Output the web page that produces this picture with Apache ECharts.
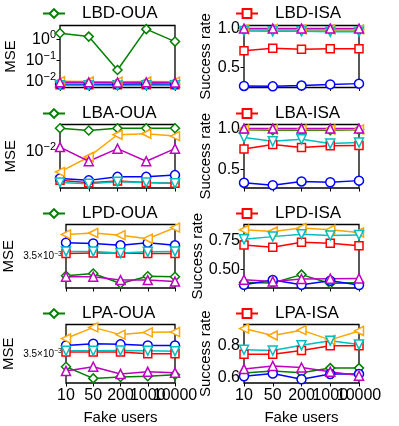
<!DOCTYPE html>
<html>
<head>
<meta charset="utf-8">
<script src="https://cdn.jsdelivr.net/npm/echarts@6/dist/echarts.min.js"></script>
<style>
  html, body { margin: 0; padding: 0; background: #fff; }
  #main { width: 399px; height: 426px; }
</style>
</head>
<body>
<div id="main"></div>
<script>
// x 轴: 假用户数
var xLabels = ['10', '50', '200', '1000', '10000'];

// LBD-OUA (MSE, log)
var lbdOuaGreen   = [1.94, 1.33, 0.034, 3.02, 0.77];
var lbdOuaRed     = [0.0068, 0.0067, 0.0068, 0.0068, 0.0067];
var lbdOuaBlue    = [0.0072, 0.0071, 0.0072, 0.0073, 0.0072];
var lbdOuaOrange  = [0.0100, 0.0096, 0.0095, 0.0097, 0.0095];
var lbdOuaCyan    = [0.0064, 0.0064, 0.0063, 0.0064, 0.0064];
var lbdOuaMagenta = [0.0088, 0.0088, 0.0087, 0.0088, 0.0087];

// LBD-ISA (success rate)
var lbdIsaGreen   = [0.985, 0.985, 0.985, 0.985, 0.985];
var lbdIsaRed     = [0.715, 0.745, 0.735, 0.74, 0.74];
var lbdIsaBlue    = [0.26, 0.255, 0.265, 0.28, 0.29];
var lbdIsaOrange  = [0.99, 0.995, 0.99, 0.99, 0.99];
var lbdIsaCyan    = [0.97, 0.965, 0.965, 0.96, 0.96];
var lbdIsaMagenta = [1.0, 1.0, 1.0, 1.0, 1.0];

// LBA-OUA (MSE, log)
var lbaOuaGreen   = [0.0247, 0.0226, 0.0247, 0.0247, 0.0247];
var lbaOuaRed     = [0.00332, 0.0030, 0.0032, 0.00304, 0.00293];
var lbaOuaBlue    = [0.00355, 0.00329, 0.00377, 0.00377, 0.00403];
var lbaOuaOrange  = [0.00457, 0.00813, 0.0192, 0.0199, 0.0182];
var lbaOuaCyan    = [0.00304, 0.00288, 0.00311, 0.00304, 0.00293];
var lbaOuaMagenta = [0.0119, 0.00689, 0.0112, 0.00689, 0.0112];

// LBA-ISA
var lbaIsaGreen   = [0.985, 0.98, 0.98, 0.98, 0.985];
var lbaIsaRed     = [0.75, 0.805, 0.77, 0.79, 0.795];
var lbaIsaBlue    = [0.34, 0.31, 0.355, 0.345, 0.365];
var lbaIsaOrange  = [0.99, 0.99, 0.99, 0.99, 0.99];
var lbaIsaCyan    = [0.89, 0.845, 0.87, 0.817, 0.83];
var lbaIsaMagenta = [1.0, 1.0, 1.0, 1.0, 1.0];

// LPD-OUA (MSE, log)
var lpdOuaGreen   = [0.00305, 0.00310, 0.00289, 0.00304, 0.00303];
var lpdOuaRed     = [0.00357, 0.00358, 0.00358, 0.00357, 0.00357];
var lpdOuaBlue    = [0.00385, 0.00383, 0.00378, 0.00385, 0.00378];
var lpdOuaOrange  = [0.00408, 0.00412, 0.00406, 0.00396, 0.00428];
var lpdOuaCyan    = [0.00362, 0.00362, 0.00358, 0.00361, 0.00362];
var lpdOuaMagenta = [0.00303, 0.00303, 0.00296, 0.00296, 0.00293];

// LPD-ISA
var lpdIsaGreen   = [0.388, 0.383, 0.456, 0.379, 0.388];
var lpdIsaRed     = [0.712, 0.692, 0.736, 0.727, 0.706];
var lpdIsaBlue    = [0.368, 0.409, 0.368, 0.403, 0.365];
var lpdIsaOrange  = [0.844, 0.829, 0.859, 0.844, 0.821];
var lpdIsaCyan    = [0.762, 0.785, 0.806, 0.794, 0.80];
var lpdIsaMagenta = [0.412, 0.397, 0.418, 0.421, 0.423];

// LPA-OUA (MSE, log)
var lpaOuaGreen   = [0.00317, 0.00290, 0.00293, 0.00295, 0.00298];
var lpaOuaRed     = [0.00355, 0.00355, 0.00355, 0.0035, 0.0035];
var lpaOuaBlue    = [0.00373, 0.00378, 0.00376, 0.00373, 0.00373];
var lpaOuaOrange  = [0.00393, 0.00428, 0.00405, 0.00412, 0.00413];
var lpaOuaCyan    = [0.00358, 0.00358, 0.00359, 0.00358, 0.00357];
var lpaOuaMagenta = [0.00307, 0.00317, 0.00300, 0.00305, 0.00303];

// LPA-ISA
var lpaIsaGreen   = [0.626, 0.639, 0.629, 0.658, 0.658];
var lpaIsaRed     = [0.746, 0.746, 0.77, 0.80, 0.80];
var lpaIsaBlue    = [0.606, 0.623, 0.587, 0.62, 0.62];
var lpaIsaOrange  = [0.91, 0.866, 0.90, 0.838, 0.895];
var lpaIsaCyan    = [0.775, 0.77, 0.803, 0.833, 0.808];
var lpaIsaMagenta = [0.652, 0.672, 0.662, 0.635, 0.61];

// 线条样式: 颜色, 标记, 旋转
var styles = {
	green:   { color: '#008000', symbol: 'diamond',  rotate: 0 },
	red:     { color: '#ff0000', symbol: 'rect',     rotate: 0 },
	blue:    { color: '#0000ff', symbol: 'circle',   rotate: 0 },
	orange:  { color: '#ffa500', symbol: 'triangle', rotate: 90 },
	cyan:    { color: '#00bfbf', symbol: 'triangle', rotate: 180 },
	magenta: { color: '#bf00bf', symbol: 'triangle', rotate: 0 }
};
var order = ['green', 'red', 'blue', 'orange', 'cyan', 'magenta'];

// 每个子图
var panels = [
	{ title: 'LBD-OUA', key: 'green', col: 0, row: 0, log: true, min: 0.005, max: 4.5, ticks: [0.01, 0.1, 1], gap: 42,
	  data: { green: lbdOuaGreen, red: lbdOuaRed, blue: lbdOuaBlue, orange: lbdOuaOrange, cyan: lbdOuaCyan, magenta: lbdOuaMagenta } },
	{ title: 'LBD-ISA', key: 'red', col: 1, row: 0, log: false, min: 0.24, max: 1.04, ticks: [0.5, 1.0], gap: 28, digits: 1,
	  data: { green: lbdIsaGreen, red: lbdIsaRed, blue: lbdIsaBlue, orange: lbdIsaOrange, cyan: lbdIsaCyan, magenta: lbdIsaMagenta } },
	{ title: 'LBA-OUA', key: 'green', col: 0, row: 1, log: true, min: 0.00245, max: 0.0285, ticks: [0.01], gap: 42,
	  data: { green: lbaOuaGreen, red: lbaOuaRed, blue: lbaOuaBlue, orange: lbaOuaOrange, cyan: lbaOuaCyan, magenta: lbaOuaMagenta } },
	{ title: 'LBA-ISA', key: 'red', col: 1, row: 1, log: false, min: 0.275, max: 1.05, ticks: [0.5, 1.0], gap: 28, digits: 1,
	  data: { green: lbaIsaGreen, red: lbaIsaRed, blue: lbaIsaBlue, orange: lbaIsaOrange, cyan: lbaIsaCyan, magenta: lbaIsaMagenta } },
	{ title: 'LPD-OUA', key: 'green', col: 0, row: 2, log: true, min: 0.0028, max: 0.004375, ticks: [0.0035], gap: 50, small: true,
	  data: { green: lpdOuaGreen, red: lpdOuaRed, blue: lpdOuaBlue, orange: lpdOuaOrange, cyan: lpdOuaCyan, magenta: lpdOuaMagenta } },
	{ title: 'LPD-ISA', key: 'red', col: 1, row: 2, log: false, min: 0.34, max: 0.89, ticks: [0.5, 0.75], gap: 34, digits: 2,
	  data: { green: lpdIsaGreen, red: lpdIsaRed, blue: lpdIsaBlue, orange: lpdIsaOrange, cyan: lpdIsaCyan, magenta: lpdIsaMagenta } },
	{ title: 'LPA-OUA', key: 'green', col: 0, row: 3, log: true, min: 0.0028, max: 0.004375, ticks: [0.0035], gap: 50, small: true,
	  data: { green: lpaOuaGreen, red: lpaOuaRed, blue: lpaOuaBlue, orange: lpaOuaOrange, cyan: lpaOuaCyan, magenta: lpaOuaMagenta } },
	{ title: 'LPA-ISA', key: 'red', col: 1, row: 3, log: false, min: 0.563, max: 0.936, ticks: [0.6, 0.8], gap: 28, digits: 1,
	  data: { green: lpaIsaGreen, red: lpaIsaRed, blue: lpaIsaBlue, orange: lpaIsaOrange, cyan: lpaIsaCyan, magenta: lpaIsaMagenta } }
];

var gridLeft = [60, 244];
var gridTop = [25.5, 124.5, 224.5, 324.5];
var gridH = [62, 63.5, 63.5, 63.5];
var legendTop = [0, 100, 200, 300];
var font = 'Liberation Sans, Arial, sans-serif';

function powLabel(v) {
	var e = Math.round(Math.log10(v));
	return '10{sup|' + (e < 0 ? '\u2212' + (-e) : e) + '}';
}

var grids = [], xAxes = [], yAxes = [], series = [], legends = [];
for (var i = 0; i < panels.length; i++) {
	var p = panels[i];
	var last = p.row == 3;
	grids.push({
		left: gridLeft[p.col], top: gridTop[p.row], width: 115, height: gridH[p.row],
		show: true, borderColor: '#000', borderWidth: 1.3, backgroundColor: 'transparent'
	});
	xAxes.push({
		gridIndex: i, type: 'category', boundaryGap: false, data: xLabels,
		axisLine: { show: false },
		axisTick: { show: true, inside: false, length: 3.5, alignWithLabel: true, lineStyle: { color: '#000', width: 1 } },
		axisLabel: { show: last, interval: 0, hideOverlap: false, color: '#000', fontSize: 16, fontFamily: font, margin: 5 },
		splitLine: { show: false },
		name: last ? 'Fake users' : '', nameLocation: 'middle', nameGap: 27,
		nameTextStyle: { color: '#000', fontSize: 15, fontFamily: font }
	});
	var fmt;
	if (p.log && p.small) {
		fmt = function () { return '{m|3.5\u00d710}{ms|\u22123}'; };
	} else if (p.log) {
		fmt = powLabel;
	} else {
		fmt = (function (d) { return function (v) { return v.toFixed(d); }; })(p.digits);
	}
	yAxes.push({
		gridIndex: i, type: p.log ? 'log' : 'value', logBase: 10, min: p.min, max: p.max,
		axisLine: { show: false },
		splitLine: { show: false },
		axisTick: { show: true, inside: false, length: 3.5, customValues: p.ticks, lineStyle: { color: '#000', width: 1 } },
		axisLabel: {
			customValues: p.ticks, formatter: fmt, color: '#000', fontSize: 16, fontFamily: font, margin: 4,
			rich: {
				sup: { fontSize: 11, fontFamily: font, color: '#000', padding: [0, 0, 9, 0] },
				m: { fontSize: 10, fontFamily: font, color: '#000' },
				ms: { fontSize: 7, fontFamily: font, color: '#000', padding: [0, 0, 5, 0] }
			}
		},
		name: p.col == 0 ? 'MSE' : 'Success rate', nameLocation: 'middle', nameGap: p.gap, nameRotate: 90,
		nameTextStyle: { color: '#000', fontSize: 15, fontFamily: font }
	});
	for (var k = 0; k < order.length; k++) {
		var c = order[k];
		var st = styles[c];
		series.push({
			name: c == p.key ? p.title : p.title + ' ' + c,
			type: 'line', xAxisIndex: i, yAxisIndex: i,
			data: p.data[c],
			symbol: st.symbol, symbolRotate: st.rotate, symbolSize: st.symbol == 'rect' ? 8 : 9,
			showAllSymbol: true, clip: true, animation: false,
			lineStyle: { color: st.color, width: 1.5 },
			itemStyle: { color: '#fff', opacity: 1, borderColor: st.color, borderWidth: 1.5 },
			emphasis: { disabled: true }
		});
	}
	legends.push({
		data: [p.title], left: p.col == 0 ? 37 : 230, top: legendTop[p.row],
		itemWidth: 22, itemHeight: 11, itemGap: 0, selectedMode: false,
		textStyle: { color: '#000', fontSize: 17, fontFamily: font, padding: [0, 0, 0, 12] }
	});
}

var myChart = echarts.init(document.getElementById('main'), null, { renderer: 'canvas' });
myChart.setOption({
	backgroundColor: '#fff',
	animation: false,
	legend: legends,
	grid: grids,
	xAxis: xAxes,
	yAxis: yAxes,
	series: series
});
</script>
</body>
</html>
